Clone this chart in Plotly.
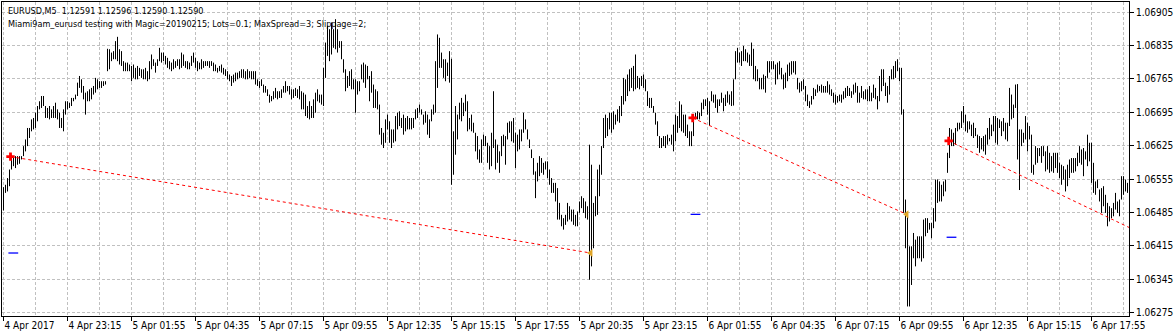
import plotly.graph_objects as go

# ---- data (EURUSD M5, bar index 0 = 4 Apr 2017 20:35) ----
HIGH = [
    1.06538, 1.06543, 1.06557, 1.06575, 1.06606, 1.06603, 1.06603, 1.06603, 1.06603, 1.06603,
    1.06624, 1.06638, 1.06662, 1.06662, 1.06680, 1.06683, 1.06694, 1.06708, 1.06718, 1.06729,
    1.06729, 1.06708, 1.06704, 1.06708, 1.06701, 1.06708, 1.06715, 1.06701, 1.06694, 1.06683,
    1.06701, 1.06718, 1.06718, 1.06715, 1.06725, 1.06725, 1.06732, 1.06757, 1.06771, 1.06764,
    1.06750, 1.06736, 1.06739, 1.06743, 1.06746, 1.06750, 1.06767, 1.06764, 1.06760, 1.06760,
    1.06760, 1.06760, 1.06828, 1.06827, 1.06820, 1.06823, 1.06844, 1.06853, 1.06827, 1.06823,
    1.06802, 1.06799, 1.06799, 1.06795, 1.06792, 1.06795, 1.06788, 1.06792, 1.06788, 1.06785,
    1.06785, 1.06788, 1.06781, 1.06802, 1.06816, 1.06806, 1.06799, 1.06806, 1.06830, 1.06820,
    1.06820, 1.06813, 1.06809, 1.06802, 1.06799, 1.06806, 1.06802, 1.06806, 1.06806, 1.06820,
    1.06816, 1.06802, 1.06802, 1.06799, 1.06813, 1.06820, 1.06809, 1.06802, 1.06799, 1.06806,
    1.06802, 1.06802, 1.06802, 1.06802, 1.06802, 1.06799, 1.06795, 1.06788, 1.06792, 1.06795,
    1.06788, 1.06785, 1.06781, 1.06774, 1.06771, 1.06774, 1.06778, 1.06778, 1.06781, 1.06785,
    1.06785, 1.06781, 1.06785, 1.06781, 1.06781, 1.06781, 1.06781, 1.06764, 1.06760, 1.06764,
    1.06753, 1.06750, 1.06743, 1.06732, 1.06729, 1.06739, 1.06746, 1.06739, 1.06739, 1.06743,
    1.06750, 1.06760, 1.06750, 1.06750, 1.06743, 1.06743, 1.06746, 1.06743, 1.06750, 1.06739,
    1.06736, 1.06732, 1.06708, 1.06718, 1.06708, 1.06722, 1.06736, 1.06743, 1.06732, 1.06732,
    1.06788, 1.06841, 1.06876, 1.06869, 1.06883, 1.06869, 1.06890, 1.06869, 1.06844, 1.06844,
    1.06806, 1.06785, 1.06771, 1.06781, 1.06785, 1.06764, 1.06764, 1.06760, 1.06760, 1.06795,
    1.06799, 1.06795, 1.06792, 1.06771, 1.06781, 1.06753, 1.06743, 1.06739, 1.06711, 1.06662,
    1.06652, 1.06680, 1.06690, 1.06676, 1.06659, 1.06659, 1.06687, 1.06694, 1.06697, 1.06683,
    1.06690, 1.06683, 1.06687, 1.06683, 1.06683, 1.06683, 1.06701, 1.06704, 1.06711, 1.06701,
    1.06690, 1.06697, 1.06690, 1.06680, 1.06701, 1.06711, 1.06802, 1.06858, 1.06851, 1.06820,
    1.06806, 1.06806, 1.06799, 1.06823, 1.06807, 1.06655, 1.06708, 1.06690, 1.06715, 1.06725,
    1.06715, 1.06732, 1.06718, 1.06683, 1.06690, 1.06673, 1.06652, 1.06645, 1.06617, 1.06638,
    1.06648, 1.06645, 1.06631, 1.06624, 1.06652, 1.06739, 1.06638, 1.06627, 1.06613, 1.06645,
    1.06648, 1.06645, 1.06673, 1.06676, 1.06676, 1.06683, 1.06652, 1.06648, 1.06659, 1.06659,
    1.06694, 1.06680, 1.06659, 1.06638, 1.06617, 1.06599, 1.06571, 1.06589, 1.06603, 1.06599,
    1.06589, 1.06592, 1.06592, 1.06575, 1.06557, 1.06547, 1.06547, 1.06536, 1.06505, 1.06480,
    1.06473, 1.06480, 1.06505, 1.06498, 1.06491, 1.06491, 1.06480, 1.06487, 1.06508, 1.06519,
    1.06515, 1.06508, 1.06498, 1.06627, 1.06585, 1.06505, 1.06519, 1.06575, 1.06585, 1.06624,
    1.06683, 1.06690, 1.06683, 1.06694, 1.06694, 1.06697, 1.06690, 1.06701, 1.06708, 1.06729,
    1.06767, 1.06764, 1.06774, 1.06785, 1.06788, 1.06792, 1.06816, 1.06771, 1.06767, 1.06771,
    1.06774, 1.06764, 1.06739, 1.06725, 1.06725, 1.06708, 1.06694, 1.06676, 1.06645, 1.06641,
    1.06645, 1.06645, 1.06648, 1.06641, 1.06648, 1.06669, 1.06690, 1.06687, 1.06718, 1.06711,
    1.06690, 1.06690, 1.06669, 1.06655, 1.06655, 1.06683, 1.06694, 1.06697, 1.06694, 1.06715,
    1.06722, 1.06722, 1.06725, 1.06718, 1.06739, 1.06732, 1.06732, 1.06722, 1.06722, 1.06736,
    1.06725, 1.06732, 1.06739, 1.06732, 1.06739, 1.06764, 1.06823, 1.06830, 1.06820, 1.06823,
    1.06834, 1.06827, 1.06820, 1.06816, 1.06841, 1.06828, 1.06792, 1.06785, 1.06767, 1.06767,
    1.06774, 1.06771, 1.06802, 1.06802, 1.06802, 1.06802, 1.06795, 1.06799, 1.06802, 1.06788,
    1.06774, 1.06778, 1.06795, 1.06799, 1.06802, 1.06802, 1.06802, 1.06767, 1.06757, 1.06760,
    1.06764, 1.06750, 1.06732, 1.06718, 1.06729, 1.06746, 1.06743, 1.06753, 1.06750, 1.06753,
    1.06750, 1.06750, 1.06760, 1.06753, 1.06743, 1.06736, 1.06732, 1.06729, 1.06732, 1.06732,
    1.06739, 1.06746, 1.06750, 1.06746, 1.06739, 1.06753, 1.06757, 1.06750, 1.06736, 1.06750,
    1.06739, 1.06743, 1.06743, 1.06750, 1.06736, 1.06753, 1.06746, 1.06729, 1.06771, 1.06785,
    1.06785, 1.06757, 1.06750, 1.06771, 1.06785, 1.06792, 1.06802, 1.06806, 1.06788, 1.06788,
    1.06701, 1.06512, 1.06480, 1.06414, 1.06414, 1.06442, 1.06428, 1.06435, 1.06435, 1.06435,
    1.06470, 1.06473, 1.06473, 1.06463, 1.06463, 1.06494, 1.06554, 1.06554, 1.06550, 1.06543,
    1.06550, 1.06554, 1.06610, 1.06662, 1.06659, 1.06652, 1.06662, 1.06673, 1.06673, 1.06697,
    1.06708, 1.06690, 1.06676, 1.06676, 1.06669, 1.06673, 1.06662, 1.06648, 1.06645, 1.06641,
    1.06645, 1.06648, 1.06662, 1.06683, 1.06669, 1.06687, 1.06687, 1.06683, 1.06680, 1.06676,
    1.06683, 1.06673, 1.06673, 1.06746, 1.06732, 1.06711, 1.06753, 1.06754, 1.06659, 1.06659,
    1.06652, 1.06687, 1.06673, 1.06666, 1.06648, 1.06585, 1.06624, 1.06620, 1.06620, 1.06624,
    1.06624, 1.06613, 1.06624, 1.06610, 1.06603, 1.06610, 1.06610, 1.06610, 1.06589, 1.06585,
    1.06582, 1.06575, 1.06585, 1.06596, 1.06599, 1.06599, 1.06599, 1.06610, 1.06624, 1.06617,
    1.06620, 1.06613, 1.06648, 1.06631, 1.06631, 1.06589, 1.06550, 1.06554, 1.06533, 1.06536,
    1.06540, 1.06522, 1.06505, 1.06498, 1.06494, 1.06505, 1.06526, 1.06508, 1.06512, 1.06561,
    1.06561, 1.06554, 1.06547,
]

LOW = [
    1.06489, 1.06526, 1.06529, 1.06540, 1.06575, 1.06582, 1.06578, 1.06585, 1.06587, 1.06596,
    1.06603, 1.06613, 1.06624, 1.06641, 1.06655, 1.06659, 1.06662, 1.06676, 1.06701, 1.06704,
    1.06708, 1.06683, 1.06683, 1.06680, 1.06683, 1.06683, 1.06683, 1.06680, 1.06662, 1.06662,
    1.06655, 1.06690, 1.06701, 1.06704, 1.06708, 1.06718, 1.06722, 1.06729, 1.06746, 1.06736,
    1.06722, 1.06690, 1.06718, 1.06718, 1.06722, 1.06732, 1.06736, 1.06743, 1.06746, 1.06746,
    1.06750, 1.06753, 1.06781, 1.06785, 1.06802, 1.06806, 1.06806, 1.06802, 1.06795, 1.06792,
    1.06781, 1.06781, 1.06781, 1.06781, 1.06760, 1.06767, 1.06764, 1.06764, 1.06771, 1.06767,
    1.06764, 1.06764, 1.06760, 1.06764, 1.06785, 1.06792, 1.06778, 1.06792, 1.06802, 1.06799,
    1.06802, 1.06795, 1.06788, 1.06785, 1.06781, 1.06785, 1.06788, 1.06792, 1.06785, 1.06788,
    1.06792, 1.06788, 1.06785, 1.06785, 1.06792, 1.06799, 1.06788, 1.06781, 1.06785, 1.06785,
    1.06788, 1.06792, 1.06792, 1.06788, 1.06792, 1.06781, 1.06781, 1.06778, 1.06781, 1.06778,
    1.06774, 1.06771, 1.06764, 1.06760, 1.06750, 1.06757, 1.06760, 1.06764, 1.06767, 1.06767,
    1.06767, 1.06764, 1.06764, 1.06767, 1.06764, 1.06764, 1.06753, 1.06750, 1.06746, 1.06750,
    1.06736, 1.06736, 1.06729, 1.06715, 1.06718, 1.06722, 1.06725, 1.06722, 1.06725, 1.06725,
    1.06736, 1.06736, 1.06739, 1.06732, 1.06722, 1.06725, 1.06729, 1.06725, 1.06722, 1.06701,
    1.06701, 1.06687, 1.06683, 1.06680, 1.06683, 1.06683, 1.06694, 1.06718, 1.06715, 1.06711,
    1.06708, 1.06767, 1.06813, 1.06802, 1.06816, 1.06830, 1.06827, 1.06820, 1.06830, 1.06806,
    1.06778, 1.06739, 1.06746, 1.06750, 1.06743, 1.06743, 1.06694, 1.06732, 1.06739, 1.06764,
    1.06757, 1.06746, 1.06764, 1.06718, 1.06736, 1.06704, 1.06704, 1.06701, 1.06648, 1.06627,
    1.06620, 1.06631, 1.06659, 1.06631, 1.06620, 1.06631, 1.06634, 1.06659, 1.06666, 1.06662,
    1.06648, 1.06655, 1.06659, 1.06659, 1.06659, 1.06662, 1.06680, 1.06683, 1.06694, 1.06690,
    1.06669, 1.06673, 1.06648, 1.06641, 1.06676, 1.06690, 1.06694, 1.06746, 1.06788, 1.06788,
    1.06767, 1.06760, 1.06771, 1.06757, 1.06543, 1.06564, 1.06606, 1.06638, 1.06680, 1.06676,
    1.06687, 1.06697, 1.06655, 1.06659, 1.06655, 1.06652, 1.06613, 1.06596, 1.06589, 1.06589,
    1.06624, 1.06624, 1.06589, 1.06575, 1.06582, 1.06620, 1.06575, 1.06589, 1.06568, 1.06603,
    1.06624, 1.06585, 1.06638, 1.06652, 1.06634, 1.06631, 1.06578, 1.06613, 1.06617, 1.06634,
    1.06652, 1.06659, 1.06638, 1.06620, 1.06599, 1.06564, 1.06515, 1.06550, 1.06561, 1.06568,
    1.06564, 1.06575, 1.06557, 1.06543, 1.06526, 1.06526, 1.06508, 1.06470, 1.06470, 1.06456,
    1.06449, 1.06459, 1.06466, 1.06470, 1.06466, 1.06459, 1.06456, 1.06456, 1.06484, 1.06494,
    1.06484, 1.06473, 1.06470, 1.06344, 1.06372, 1.06410, 1.06477, 1.06480, 1.06519, 1.06564,
    1.06620, 1.06641, 1.06645, 1.06659, 1.06652, 1.06659, 1.06669, 1.06676, 1.06673, 1.06687,
    1.06711, 1.06718, 1.06729, 1.06739, 1.06746, 1.06739, 1.06743, 1.06746, 1.06743, 1.06750,
    1.06746, 1.06739, 1.06708, 1.06704, 1.06704, 1.06694, 1.06669, 1.06645, 1.06620, 1.06620,
    1.06624, 1.06620, 1.06627, 1.06634, 1.06627, 1.06613, 1.06634, 1.06652, 1.06662, 1.06655,
    1.06652, 1.06645, 1.06641, 1.06624, 1.06624, 1.06645, 1.06680, 1.06680, 1.06680, 1.06687,
    1.06701, 1.06708, 1.06690, 1.06666, 1.06718, 1.06715, 1.06704, 1.06694, 1.06708, 1.06715,
    1.06697, 1.06708, 1.06715, 1.06711, 1.06708, 1.06709, 1.06764, 1.06799, 1.06799, 1.06792,
    1.06802, 1.06802, 1.06799, 1.06792, 1.06792, 1.06764, 1.06760, 1.06760, 1.06743, 1.06743,
    1.06743, 1.06736, 1.06767, 1.06778, 1.06785, 1.06785, 1.06753, 1.06764, 1.06774, 1.06764,
    1.06743, 1.06746, 1.06760, 1.06771, 1.06774, 1.06778, 1.06774, 1.06743, 1.06736, 1.06739,
    1.06743, 1.06718, 1.06708, 1.06704, 1.06711, 1.06722, 1.06729, 1.06736, 1.06739, 1.06736,
    1.06736, 1.06736, 1.06736, 1.06732, 1.06729, 1.06715, 1.06711, 1.06715, 1.06718, 1.06715,
    1.06722, 1.06725, 1.06729, 1.06729, 1.06725, 1.06732, 1.06736, 1.06715, 1.06715, 1.06725,
    1.06722, 1.06722, 1.06718, 1.06718, 1.06718, 1.06725, 1.06722, 1.06701, 1.06718, 1.06739,
    1.06750, 1.06729, 1.06715, 1.06732, 1.06764, 1.06764, 1.06767, 1.06781, 1.06760, 1.06690,
    1.06484, 1.06410, 1.06288, 1.06288, 1.06333, 1.06389, 1.06372, 1.06389, 1.06389, 1.06382,
    1.06389, 1.06435, 1.06442, 1.06449, 1.06431, 1.06452, 1.06466, 1.06505, 1.06508, 1.06508,
    1.06519, 1.06529, 1.06568, 1.06599, 1.06624, 1.06624, 1.06627, 1.06655, 1.06659, 1.06662,
    1.06673, 1.06655, 1.06652, 1.06659, 1.06645, 1.06641, 1.06645, 1.06620, 1.06610, 1.06617,
    1.06613, 1.06606, 1.06627, 1.06638, 1.06645, 1.06655, 1.06631, 1.06627, 1.06662, 1.06645,
    1.06655, 1.06638, 1.06634, 1.06666, 1.06680, 1.06683, 1.06704, 1.06596, 1.06532, 1.06624,
    1.06631, 1.06638, 1.06613, 1.06638, 1.06568, 1.06564, 1.06585, 1.06589, 1.06603, 1.06589,
    1.06603, 1.06571, 1.06575, 1.06568, 1.06571, 1.06568, 1.06578, 1.06568, 1.06557, 1.06543,
    1.06554, 1.06529, 1.06540, 1.06557, 1.06568, 1.06568, 1.06571, 1.06582, 1.06589, 1.06585,
    1.06561, 1.06596, 1.06582, 1.06592, 1.06547, 1.06526, 1.06522, 1.06536, 1.06508, 1.06484,
    1.06498, 1.06484, 1.06456, 1.06466, 1.06473, 1.06477, 1.06491, 1.06484, 1.06477, 1.06512,
    1.06522, 1.06529, 1.06526,
]

TIME_LABELS = [
    "4 Apr 2017", "4 Apr 23:15", "5 Apr 01:55", "5 Apr 04:35", "5 Apr 07:15", "5 Apr 09:55",
    "5 Apr 12:35", "5 Apr 15:15", "5 Apr 17:55", "5 Apr 20:35", "5 Apr 23:15", "6 Apr 01:55",
    "6 Apr 04:35", "6 Apr 07:15", "6 Apr 09:55", "6 Apr 12:35", "6 Apr 15:15", "6 Apr 17:55",
]
PRICE_TICKS = [1.06275, 1.06345, 1.06415, 1.06485, 1.06555, 1.06625, 1.06695, 1.06765, 1.06835, 1.06905]

# trades: open (bar, price), close (bar, price), target level marker (bar, price)
OPEN_BAR = [3.5, 344.6, 472.6]
OPEN_PRICE = [1.06602, 1.06683, 1.06635]
CLOSE_BAR = [293.6, 451.6, 573.0]
CLOSE_PRICE = [1.06400, 1.06481, 1.06433]
CLOSED_SHOWN = [True, True, False]
LEVEL_BAR = [4.9, 346.0, 474.0]
LEVEL_PRICE = [1.06400, 1.06481, 1.06433]

HEADER_1 = "EURUSD,M5\u00a0 1.12591 1.12596 1.12590 1.12590"
HEADER_2 = "Miami9am_eurusd testing with Magic=20190215; Lots=0.1; MaxSpread=3; Slippage=2;"

n = len(HIGH)
LABEL_BARS = list(range(0, n, 32))[:len(TIME_LABELS)]
GRID_BARS = list(range(16, n, 32))

FONT = "DejaVu Sans Condensed, Liberation Sans, Arial, sans-serif"
GRID = "#c0c0c0"

bx, by = [], []
for i in range(n):
    bx += [i, i, None]
    by += [LOW[i], HIGH[i], None]

fig = go.Figure()
fig.add_trace(go.Scatter(x=bx, y=by, mode="lines", line=dict(color="black", width=1),
                         hoverinfo="skip", showlegend=False))

for k in range(len(OPEN_BAR)):
    fig.add_trace(go.Scatter(x=[OPEN_BAR[k], CLOSE_BAR[k]], y=[OPEN_PRICE[k], CLOSE_PRICE[k]],
                             mode="lines", line=dict(color="red", width=1, dash="3px,3px"),
                             hoverinfo="skip", showlegend=False))

fig.add_trace(go.Scatter(x=LEVEL_BAR, y=LEVEL_PRICE, mode="markers",
                         marker=dict(symbol="line-ew", size=7, line=dict(color="#0000ff", width=1.3)),
                         hoverinfo="skip", showlegend=False))
fig.add_trace(go.Scatter(x=OPEN_BAR, y=OPEN_PRICE, mode="markers",
                         marker=dict(symbol="cross", size=7, color="red", line=dict(width=0)),
                         hoverinfo="skip", showlegend=False))
cb = [b for b, s in zip(CLOSE_BAR, CLOSED_SHOWN) if s]
cp = [p for p, s in zip(CLOSE_PRICE, CLOSED_SHOWN) if s]
fig.add_trace(go.Scatter(x=cb, y=cp, mode="markers",
                         marker=dict(symbol="triangle-left", size=7, color="#e0a528", line=dict(width=0)),
                         hoverinfo="skip", showlegend=False))

fig.add_annotation(xref="paper", yref="paper", x=0, y=1, xanchor="left", yanchor="middle",
                   xshift=4, yshift=-9, text=HEADER_1, showarrow=False,
                   font=dict(family=FONT, size=9, color="black"))
fig.add_annotation(xref="paper", yref="paper", x=0, y=1, xanchor="left", yanchor="middle",
                   xshift=4, yshift=-22, text=HEADER_2, showarrow=False,
                   font=dict(family=FONT, size=9, color="black"))

fig.update_layout(
    width=1175, height=336,
    margin=dict(l=2, r=46, t=2, b=20, pad=0),
    paper_bgcolor="white", plot_bgcolor="white",
    showlegend=False, hovermode=False,
    font=dict(family=FONT, size=10, color="black"),
)
fig.update_xaxes(
    range=[-0.75, n - 0.25],
    tickmode="array", tickvals=LABEL_BARS, ticktext=TIME_LABELS,
    ticks="outside", ticklen=4, tickcolor="black", tickwidth=1,
    ticklabelposition="outside right",
    tickfont=dict(family=FONT, size=10, color="black"),
    showgrid=True, gridcolor=GRID, gridwidth=1, griddash="3px,2px",
    minor=dict(tickmode="array", tickvals=GRID_BARS, showgrid=True, gridcolor=GRID,
               gridwidth=1, griddash="3px,2px", ticks=""),
    showline=True, linecolor="black", linewidth=1, mirror=True,
    zeroline=False, fixedrange=True,
)
fig.update_yaxes(
    side="right", range=[1.06268, 1.06926],
    tickmode="array", tickvals=PRICE_TICKS, ticktext=[f"{v:.5f}" for v in PRICE_TICKS],
    ticks="outside", ticklen=4, tickcolor="black", tickwidth=1,
    tickfont=dict(family=FONT, size=10, color="black"),
    showgrid=True, gridcolor=GRID, gridwidth=1, griddash="3px,2px",
    showline=True, linecolor="black", linewidth=1, mirror=True,
    zeroline=False, fixedrange=True,
)

fig.write_html("out.html", config={"displayModeBar": False})
